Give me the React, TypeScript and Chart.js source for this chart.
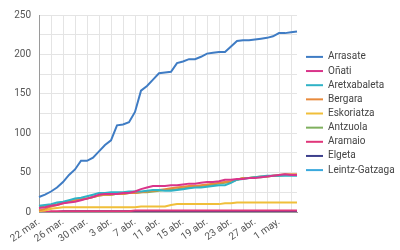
import React, { useEffect, useRef } from "react";
import { Chart, registerables } from "chart.js";

Chart.register(...registerables);

const dates = [
  "22 mar.", "23 mar.", "24 mar.", "25 mar.", "26 mar.", "27 mar.", "28 mar.", "29 mar.", "30 mar.", "31 mar.",
  "1 abr.", "2 abr.", "3 abr.", "4 abr.", "5 abr.", "6 abr.", "7 abr.", "8 abr.", "9 abr.", "10 abr.",
  "11 abr.", "12 abr.", "13 abr.", "14 abr.", "15 abr.", "16 abr.", "17 abr.", "18 abr.", "19 abr.", "20 abr.",
  "21 abr.", "22 abr.", "23 abr.", "24 abr.", "25 abr.", "26 abr.", "27 abr.", "28 abr.", "29 abr.", "30 abr.",
  "1 may.", "2 may.", "3 may.", "4 may.",
];

const seriesNames = ["Arrasate", "Oñati", "Aretxabaleta", "Bergara", "Eskoriatza", "Antzuola", "Aramaio", "Elgeta", "Leintz-Gatzaga"];
const seriesColors = ["#3f7cc4", "#d9348a", "#2fb2c6", "#e88a3c", "#f0bf3a", "#7fb05e", "#e0367a", "#3c3f8c", "#3aa9dd"];

const arrasate = [19, 22, 26, 31, 38, 47, 54, 65, 65, 69, 77, 85, 91, 110, 111, 114, 127, 154, 160, 168, 176, 177, 178, 189, 191, 194, 194, 197, 201, 202, 203, 203, 210, 217, 218, 218, 219, 220, 221, 223, 227, 227, 228, 229];
const onati = [5, 6, 8, 9, 11, 12, 13, 15, 17, 19, 22, 23, 23, 23, 24, 24, 26, 29, 31, 33, 33, 33, 34, 34, 35, 36, 36, 37, 38, 38, 39, 41, 41, 42, 42, 43, 43, 44, 45, 46, 47, 48, 47, 47];
const aretxabaleta = [8, 9, 10, 12, 13, 15, 17, 18, 20, 22, 24, 24, 25, 25, 25, 26, 26, 26, 27, 28, 28, 27, 27, 28, 29, 30, 31, 31, 32, 33, 34, 34, 37, 41, 42, 43, 44, 45, 46, 46, 46, 46, 46, 46];
const bergara = [2, 4, 7, 9, 11, 13, 15, 16, 17, 19, 21, 22, 22, 23, 23, 24, 24, 25, 26, 27, 28, 29, 30, 31, 32, 33, 33, 34, 35, 36, 37, 38, 39, 41, 43, 43, 44, 45, 45, 46, 47, 48, 48, 48];
const eskoriatza = [1, 2, 4, 5, 6, 6, 6, 6, 6, 6, 6, 6, 6, 6, 6, 6, 6, 7, 7, 7, 7, 7, 9, 10, 10, 10, 10, 10, 10, 10, 10, 11, 11, 12, 12, 12, 12, 12, 12, 12, 12, 12, 12, 12];
const antzuola = [7, 8, 9, 10, 12, 13, 15, 16, 17, 19, 21, 22, 22, 23, 23, 24, 24, 25, 25, 26, 27, 28, 28, 29, 30, 31, 32, 33, 34, 35, 36, 37, 38, 41, 43, 43, 44, 44, 45, 46, 46, 47, 47, 47];
const aramaio = [0, 0, 1, 1, 1, 1, 1, 1, 1, 1, 1, 1, 1, 1, 1, 1, 2, 2, 2, 2, 2, 2, 2, 2, 2, 2, 2, 2, 2, 2, 2, 2, 2, 2, 2, 2, 2, 2, 2, 2, 2, 2, 2, 2];
const elgeta = [0, 0, 0, 0, 1, 1, 1, 1, 1, 1, 1, 1, 1, 1, 1, 1, 1, 1, 1, 1, 1, 1, 1, 1, 1, 1, 1, 1, 1, 1, 1, 1, 1, 1, 1, 1, 1, 1, 1, 1, 1, 1, 1, 1];
const leintzGatzaga = [0, 0, 0, 0, 0, 0, 0, 0, 0, 0, 0, 0, 0, 0, 0, 0, 0, 0, 0, 0, 0, 0, 0, 0, 0, 1, 1, 1, 1, 1, 1, 1, 1, 1, 1, 1, 1, 1, 1, 1, 1, 1, 1, 1];

const seriesValues = [arrasate, onati, aretxabaleta, bergara, eskoriatza, antzuola, aramaio, elgeta, leintzGatzaga];

const yMax = 250;
const yStep = 25;

const sideLegend = {
  id: "sideLegend",
  afterDraw(chart: any) {
    const ctx = chart.ctx;
    const { top, bottom, right } = chart.chartArea;
    const sets = chart.data.datasets;
    const gap = 14.15;
    const y0 = (top + bottom) / 2 - (gap * (sets.length - 1)) / 2;
    ctx.save();
    ctx.font = "10px Roboto";
    ctx.textBaseline = "middle";
    ctx.textAlign = "left";
    sets.forEach((ds: any, i: number) => {
      const y = y0 + i * gap;
      ctx.strokeStyle = ds.borderColor;
      ctx.lineWidth = 2;
      ctx.beginPath();
      ctx.moveTo(right + 9, y);
      ctx.lineTo(right + 26, y);
      ctx.stroke();
      ctx.fillStyle = "#444";
      ctx.fillText(ds.label, right + 31, y);
    });
    ctx.restore();
  },
};

export default function App() {
  const ref = useRef<HTMLCanvasElement>(null);
  useEffect(() => {
    if (!ref.current) return;
    const chart = new Chart(ref.current, {
      type: "line",
      data: {
        labels: dates,
        datasets: seriesNames.map((name, i) => ({
          label: name,
          data: seriesValues[i],
          borderColor: seriesColors[i],
          backgroundColor: seriesColors[i],
          borderWidth: 2,
          pointRadius: 0,
          tension: 0,
          fill: false,
        })),
      },
      options: {
        responsive: false,
        animation: false,
        layout: { padding: { top: 15, right: 103, left: 0, bottom: 0 } },
        plugins: { legend: { display: false }, tooltip: { enabled: false } },
        scales: {
          x: {
            offset: false,
            afterFit: (s: any) => { s.height = 38; },
            grid: {
              drawTicks: false,
              color: (c: any) => (c.index % 2 === 0 ? "#e4e4e4" : "rgba(0,0,0,0)"),
            },
            border: { color: "#9a9a9a" },
            ticks: {
              autoSkip: false,
              maxRotation: 35,
              minRotation: 35,
              padding: 4,
              color: "#555",
              font: { family: "Roboto", size: 10 },
              callback: (_v: any, i: number) => (i % 4 === 0 ? dates[i] : ""),
            },
          },
          y: {
            min: 0,
            max: yMax,
            afterFit: (s: any) => { s.width = 39; },
            grid: { drawTicks: false, color: "#e4e4e4" },
            border: { color: "#9a9a9a" },
            ticks: {
              stepSize: yStep,
              padding: 8,
              color: "#555",
              font: { family: "Roboto", size: 10 },
              callback: (v: any) => (Number(v) % 50 === 0 ? String(v) : ""),
            },
          },
        },
      },
      plugins: [sideLegend],
    });
    return () => chart.destroy();
  }, []);
  return (
    <div style={{ position: "fixed", left: 0, top: 0, width: 400, height: 250, background: "#fff" }}>
      <canvas ref={ref} width={400} height={250} style={{ width: 400, height: 250 }} />
    </div>
  );
}
